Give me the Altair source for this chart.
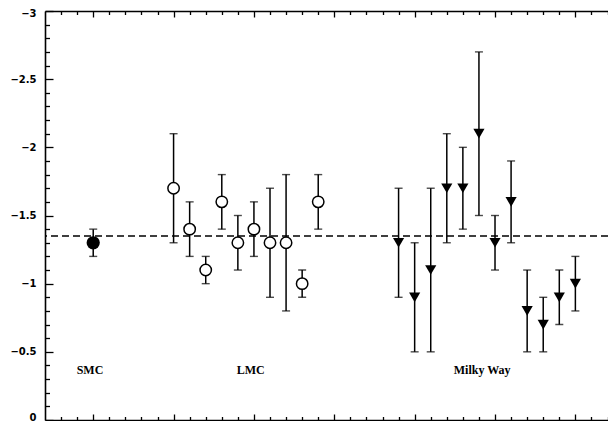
import altair as alt
import pandas as pd
import numpy as np

# ---- data ----
smc_x = [3]
smc_y = [-1.3]
smc_top = [-1.4]
smc_bot = [-1.2]

lmc_x = [8, 9, 10, 11, 12, 13, 14, 15, 16, 17]
lmc_y = [-1.7, -1.4, -1.1, -1.6, -1.3, -1.4, -1.3, -1.3, -1.0, -1.6]
lmc_top = [-2.1, -1.6, -1.2, -1.8, -1.5, -1.6, -1.7, -1.8, -1.1, -1.8]
lmc_bot = [-1.3, -1.2, -1.0, -1.4, -1.1, -1.2, -0.9, -0.8, -0.9, -1.4]

mw_x = [22, 23, 24, 25, 26, 27, 28, 29, 30, 31, 32, 33]
mw_y = [-1.3, -0.9, -1.1, -1.7, -1.7, -2.1, -1.3, -1.6, -0.8, -0.7, -0.9, -1.0]
mw_top = [-1.7, -1.3, -1.7, -2.1, -2.0, -2.7, -1.5, -1.9, -1.1, -0.9, -1.1, -1.2]
mw_bot = [-0.9, -0.5, -0.5, -1.3, -1.4, -1.5, -1.1, -1.3, -0.5, -0.5, -0.7, -0.8]

mean_value = [-1.35]

label_names = ["SMC", "LMC", "Milky Way"]
label_x = [2.8, 12.8, 27.2]
label_y = [-0.37, -0.37, -0.37]

y_major = [-3, -2.5, -2, -1.5, -1, -0.5, 0]
y_minor = [round(v, 1) for v in np.arange(-3.0, 0.001, 0.1)
           if abs(round(v * 2) - v * 2) > 1e-6]
x_major = [3, 8, 13, 18, 23, 28, 33]
x_minor = [v for v in range(1, 36) if v not in x_major]

# ---- tables ----
def group(name, xs, ys, tops, bots):
    return pd.DataFrame({"x": xs, "y": ys, "top": tops, "bot": bots, "g": name})

df = pd.concat([
    group("SMC", smc_x, smc_y, smc_top, smc_bot),
    group("LMC", lmc_x, lmc_y, lmc_top, lmc_bot),
    group("MW", mw_x, mw_y, mw_top, mw_bot),
], ignore_index=True)
mean_df = pd.DataFrame({"m": mean_value})
lab_df = pd.DataFrame({"name": label_names, "x": label_x, "y": label_y})

W, H = 563, 409
XS = alt.Scale(domain=[0, 35.03], nice=False, zero=False)
YS = alt.Scale(domain=[-3, 0], reverse=True, nice=False, zero=False)


def ax(orient, offset, values, size, domain=False, labels=False, **kw):
    return alt.Axis(orient=orient, offset=offset, values=values, tickSize=size,
                    ticks=size > 0, labels=labels, domain=domain, grid=False,
                    title=None, tickColor="black", tickWidth=1.3,
                    domainColor="black", domainWidth=1.6, **kw)


# axes: x at bottom (inward), x at top (inward), y left labels, y left inward ticks
ax_bot_major = ax("top", -H, x_major, 6, domain=True)
ax_bot_minor = ax("top", -H, x_minor, 3.5)
ax_top_major = ax("bottom", -H, x_major, 6, domain=True)
ax_top_minor = ax("bottom", -H, x_minor, 3.5)
ax_y_labels = alt.Axis(orient="left", values=y_major, ticks=False, tickSize=0,
                       labelPadding=9, labelFont="DejaVu Sans", labelFontWeight="bold",
                       labelFontSize=10, labelColor="black", format="~g",
                       labelOffset={"condition": [
                           {"test": "datum.value == 0", "value": -3},
                           {"test": "datum.value == -3", "value": 2}],
                           "value": 0},
                       domain=True, domainColor="black", domainWidth=1.6,
                       grid=False, title=None)
ax_left_major = ax("right", -W, y_major, 8)
ax_left_minor = ax("right", -W, y_minor, 4.5)

base = alt.Chart(df)

err = base.mark_rule(color="black", strokeWidth=1.5).encode(
    x=alt.X("x:Q", scale=XS, axis=ax_bot_major),
    y=alt.Y("top:Q", scale=YS, axis=ax_y_labels),
    y2="bot:Q",
)
cap_top = base.mark_tick(orient="horizontal", size=8, thickness=1.4, color="black").encode(
    x=alt.X("x:Q", scale=XS, axis=ax_bot_minor),
    y=alt.Y("top:Q", scale=YS, axis=ax_left_major),
)
cap_bot = base.mark_tick(orient="horizontal", size=8, thickness=1.4, color="black").encode(
    x=alt.X("x:Q", scale=XS, axis=ax_top_major),
    y=alt.Y("bot:Q", scale=YS, axis=ax_left_minor),
)
lmc_pts = base.transform_filter(alt.datum.g == "LMC").mark_point(
    shape="circle", filled=True, fill="white", stroke="black", strokeWidth=1.5,
    size=130, opacity=1).encode(
    x=alt.X("x:Q", scale=XS, axis=ax_top_minor),
    y=alt.Y("y:Q", scale=YS, axis=None),
)
smc_pts = base.transform_filter(alt.datum.g == "SMC").mark_point(
    shape="circle", filled=True, color="black", size=175, opacity=1).encode(
    x=alt.X("x:Q", scale=XS, axis=None),
    y=alt.Y("y:Q", scale=YS, axis=None),
)
mw_pts = base.transform_filter(alt.datum.g == "MW").mark_point(
    shape="triangle-down", filled=True, color="black", size=125, opacity=1).encode(
    x=alt.X("x:Q", scale=XS, axis=None),
    y=alt.Y("y:Q", scale=YS, axis=None),
)
mean_rule = alt.Chart(mean_df).mark_rule(
    color="black", strokeWidth=1.5, strokeDash=[7, 4]).encode(
    y=alt.Y("m:Q", scale=YS, axis=None),
)
labels = alt.Chart(lab_df).mark_text(
    font="Liberation Serif", fontWeight="bold", fontSize=12, color="black").encode(
    x=alt.X("x:Q", scale=XS, axis=None),
    y=alt.Y("y:Q", scale=YS, axis=None),
    text="name:N",
)

chart = alt.layer(
    mean_rule, err, cap_top, cap_bot, lmc_pts, smc_pts, mw_pts, labels
).resolve_axis(x="independent", y="independent").properties(
    width=W, height=H,
    autosize=alt.AutoSizeParams(type="none"),
    padding={"left": 37, "top": 3, "right": 0, "bottom": 1},
    background="white",
).configure_view(stroke=None)

chart.save("out.html", embed_options={"renderer": "svg", "actions": False})
